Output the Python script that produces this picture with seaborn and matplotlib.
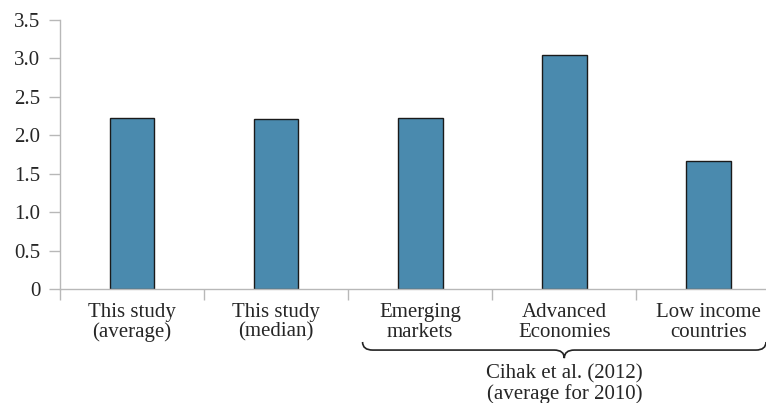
import numpy as np
import pandas as pd
import seaborn as sns
import matplotlib.pyplot as plt
from matplotlib.path import Path as MPath
from matplotlib.patches import PathPatch
import matplotlib.transforms as mtransforms

categories = ["This study\n(average)", "This study\n(median)", "Emerging\nmarkets",
              "Advanced\nEconomies", "Low income\ncountries"]
values = [2.22, 2.21, 2.23, 3.04, 1.67]
ytick_values = [0, 0.5, 1.0, 1.5, 2.0, 2.5, 3.0, 3.5]
ytick_labels = ["0", "0.5", "1.0", "1.5", "2.0", "2.5", "3.0", "3.5"]
group_label = "Cihak et al. (2012)\n(average for 2010)"

FONT = "Liberation Serif"

sns.set_style("white")
plt.rcParams["font.family"] = [FONT, "DejaVu Serif"]
plt.rcParams["font.size"] = 15

df = pd.DataFrame({"cat": categories, "val": values})

fig = plt.figure(figsize=(7.66, 4.03), dpi=100)
ax = fig.add_axes([0.0783, 0.2829, 0.9217, 0.6675])

sns.barplot(data=df, x="cat", y="val", color="#4a8aae", saturation=1,
            width=0.31, edgecolor="#1a1a1a", linewidth=1.0, ax=ax)

ax.set_xlabel("")
ax.set_ylabel("")

ax.set_yticks(ytick_values)
ax.set_yticklabels(ytick_labels, fontfamily=FONT, fontsize=15)
ax.set_xticks(range(len(categories)))
ax.set_xticklabels(categories, linespacing=1.05, fontfamily=FONT, fontsize=15)
ax.set_xticks(np.arange(-0.5, len(categories), 1.0), minor=True)
# limits after the ticks, otherwise the minor ticks widen the view
ax.set_xlim(-0.5, 4.4)
ax.set_ylim(0, 3.5)

ax.tick_params(axis="x", which="major", bottom=True, length=0, pad=10)
ax.tick_params(axis="x", which="minor", bottom=True, length=8, color="#b8b8b8", width=1, direction="out")
ax.tick_params(axis="y", left=True, length=8, color="#b8b8b8", width=1, direction="out", pad=6)

for side in ["top", "right"]:
    ax.spines[side].set_visible(False)
for side in ["left", "bottom"]:
    ax.spines[side].set_color("#b8b8b8")
    ax.spines[side].set_linewidth(1)

# curly brace under the Cihak et al. groups
trans = mtransforms.blended_transform_factory(ax.transData, ax.transAxes)
x0, x1, xc = 1.6, 4.4, 3.0
top, mid, tip = -0.197, -0.227, -0.257
r = 0.07
verts = [
    (x0, top), (x0, mid), (x0 + r, mid),
    (xc - r, mid),
    (xc, mid), (xc, tip),
    (xc, mid), (xc + r, mid),
    (x1 - r, mid),
    (x1, mid), (x1, top),
]
codes = [MPath.MOVETO, MPath.CURVE3, MPath.CURVE3,
         MPath.LINETO,
         MPath.CURVE3, MPath.CURVE3,
         MPath.CURVE3, MPath.CURVE3,
         MPath.LINETO,
         MPath.CURVE3, MPath.CURVE3]
brace = PathPatch(MPath(verts, codes), transform=trans, fill=False,
                  edgecolor="#222222", linewidth=1.2, clip_on=False)
ax.add_patch(brace)

ax.text(xc, -0.28, group_label, transform=trans, ha="center", va="top",
        fontsize=15, fontfamily=FONT, linespacing=1.05, clip_on=False)

fig.savefig("out.png", dpi=100)
